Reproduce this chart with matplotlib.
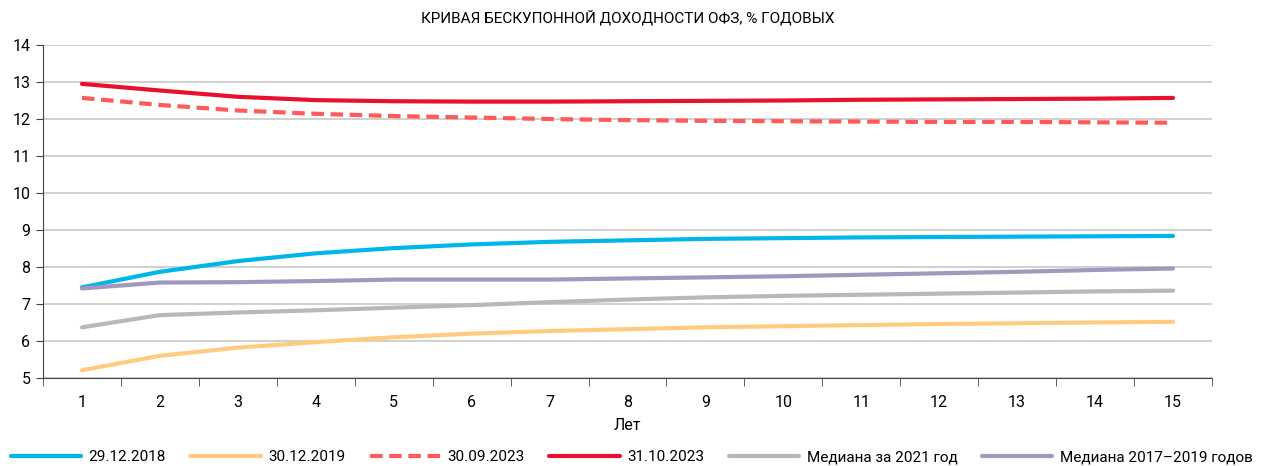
import matplotlib
matplotlib.use("Agg")
from matplotlib import pyplot as plt

plt.rcParams["font.family"] = ["Roboto", "DejaVu Sans"]

# ── data ───────────────────────────────────────────────────────────────
years = list(range(1, 16))
labels = ["29.12.2018", "30.12.2019", "30.09.2023", "31.10.2023",
          "Медиана за 2021 год", "Медиана 2017–2019 годов"]

y_2018 = [7.45, 7.87, 8.16, 8.37, 8.51, 8.61, 8.68, 8.72, 8.76, 8.78, 8.80, 8.81, 8.82, 8.83, 8.84]
y_2019 = [5.21, 5.60, 5.82, 5.97, 6.10, 6.20, 6.27, 6.32, 6.37, 6.40, 6.43, 6.46, 6.48, 6.50, 6.52]
y_sep23 = [12.57, 12.38, 12.23, 12.14, 12.08, 12.04, 12.00, 11.97, 11.95, 11.94, 11.93, 11.92, 11.92, 11.91, 11.90]
y_oct23 = [12.95, 12.77, 12.60, 12.51, 12.48, 12.47, 12.47, 12.48, 12.49, 12.50, 12.52, 12.53, 12.54, 12.55, 12.57]
y_med21 = [6.37, 6.70, 6.77, 6.83, 6.90, 6.97, 7.05, 7.12, 7.18, 7.22, 7.25, 7.28, 7.31, 7.34, 7.36]
y_med1719 = [7.42, 7.58, 7.59, 7.62, 7.66, 7.66, 7.66, 7.69, 7.72, 7.75, 7.79, 7.83, 7.87, 7.92, 7.96]

series = [y_2018, y_2019, y_sep23, y_oct23, y_med21, y_med1719]
colors = ["#00B5E9", "#FFCB80", "#FF5A5A", "#E8112D", "#B8B8B8", "#A397BF"]
styles = ["-", "-", (0, (3, 1.6)), "-", "-", "-"]

fig = plt.figure(figsize=(12.63, 4.66), dpi=100)
ax = fig.add_axes([43 / 1263, 1 - 378 / 466, (1212 - 43) / 1263, (378 - 45) / 466])

for vals, col, ls, lab in zip(series, colors, styles, labels):
    ax.plot(years, vals, color=col, lw=3, ls=ls, label=lab, solid_capstyle="round")

ax.set_xlim(0.5, 15.5)
ax.set_ylim(5, 14)
ax.set_yticks(range(5, 15))
ax.set_xticks(years)
ax.set_xticks([x + 0.5 for x in range(0, 16)], minor=True)
ax.tick_params(axis="x", which="major", length=0, pad=12, labelsize=11.5)
ax.tick_params(axis="x", which="minor", length=6, direction="out", color="#444444")
ax.tick_params(axis="y", length=5, direction="out", color="#444444", labelsize=11.5, pad=4)
ax.grid(axis="y", color="#C8C8C8", lw=1.2)
ax.set_axisbelow(True)
for s in ["top", "right"]:
    ax.spines[s].set_visible(False)
ax.spines["left"].set_color("#444444")
ax.spines["bottom"].set_color("#444444")
ax.set_xlabel("Лет", fontsize=11.5, labelpad=6)

fig.text(0.497, 1 - 18 / 466, "КРИВАЯ БЕСКУПОННОЙ ДОХОДНОСТИ ОФЗ, % ГОДОВЫХ",
         ha="center", va="center", fontsize=11)

fig.legend(loc="center", bbox_to_anchor=(0.5, 1 - 457 / 466), ncol=6,
           frameon=False, fontsize=11, handlelength=4.6, columnspacing=1.6,
           handletextpad=0.5, borderaxespad=0, borderpad=0)

fig.savefig("out.png", dpi=100)
